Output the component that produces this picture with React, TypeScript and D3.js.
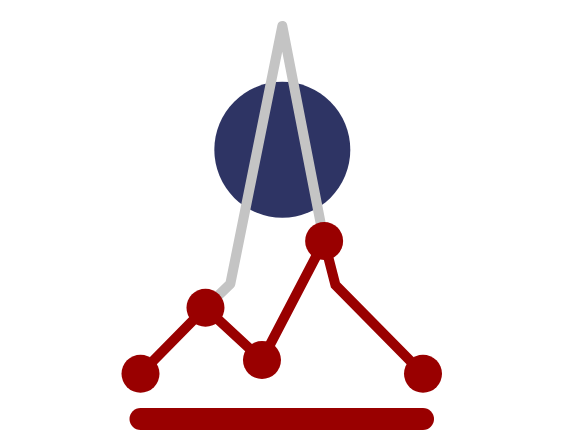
import React from 'react';
import * as d3 from 'd3';

// values in chart units (x: 0-100, y: 0-100)
const redX = [0, 23, 43, 65, 69, 100];
const redY = [11.5, 28.3, 15, 45.3, 34.1, 11.5];
const markerIdx = [0, 1, 2, 3, 5];
const grayX = [23, 31.8, 50.2, 65];
const grayY = [28.3, 34.4, 100, 45.3];
const bubbleX = [50.2];
const bubbleY = [68.5];
const baseX = [0, 100];
const baseY = [0, 0];

const W = 562;
const H = 448;

const App: React.FC = () => {
  const x = d3.scaleLinear().domain([0, 100]).range([140.5, 423]);
  const y = d3.scaleLinear().domain([0, 100]).range([419, 26]);
  const line = d3.line<[number, number]>().x(d => x(d[0])).y(d => y(d[1]));

  const red = redX.map((v, i) => [v, redY[i]] as [number, number]);
  const gray = grayX.map((v, i) => [v, grayY[i]] as [number, number]);
  const base = baseX.map((v, i) => [v, baseY[i]] as [number, number]);

  return (
    <svg width={W} height={H} style={{ position: 'absolute', left: 0, top: 0, display: 'block' }}>
      <rect width={W} height={H} fill="#ffffff" />
      {bubbleX.map((v, i) => (
        <circle key={i} cx={x(v)} cy={y(bubbleY[i])} r={68} fill="#2e3464" />
      ))}
      <path d={line(gray) || ''} fill="none" stroke="#c4c4c4" strokeWidth={10}
        strokeLinejoin="round" strokeLinecap="round" />
      <path d={line(red) || ''} fill="none" stroke="#990000" strokeWidth={10}
        strokeLinejoin="miter" strokeLinecap="round" />
      {markerIdx.map(i => (
        <circle key={i} cx={x(red[i][0])} cy={y(red[i][1])} r={19} fill="#990000" />
      ))}
      <path d={line(base) || ''} fill="none" stroke="#990000" strokeWidth={22} strokeLinecap="round" />
    </svg>
  );
};

export default App;
